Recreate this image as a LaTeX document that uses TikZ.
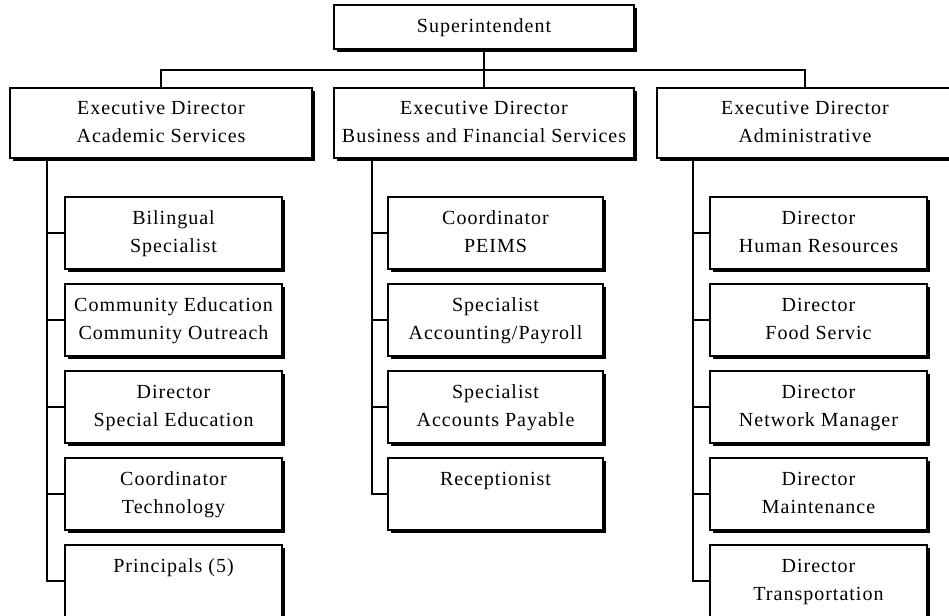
\documentclass[tikz,border=0pt]{standalone}
\usepackage{fontspec}
\setmainfont[LetterSpace=5]{Liberation Serif}
\usetikzlibrary{shadows}
\begin{document}
\begin{tikzpicture}[x=1pt,y=-1pt,
  orgbox/.style={draw, line width=1.2pt, fill=white, inner sep=0pt, outer sep=0pt,
    align=center, anchor=north west,
    font=\fontsize{20}{28}\selectfont,
    drop shadow={shadow xshift=3pt, shadow yshift=-3pt, fill=black, opacity=1}},
  execbox/.style={orgbox, minimum height=70pt},
  subbox/.style={orgbox, minimum height=72pt},
  link/.style={line width=1.3pt}]
\useasboundingbox (0,0) rectangle (949,615);

% top of the chart
\node[orgbox, minimum width=300pt, minimum height=44pt] (sup) at (334,5) {\strut Superintendent};

% executive directors
\node[execbox, minimum width=302pt] (eac) at (10,88)  {\strut Executive Director\\\strut Academic Services};
\node[execbox, minimum width=300pt] (ebu) at (334,88) {\strut Executive Director\\\strut Business and Financial Services};
\node[execbox, minimum width=296pt] (ead) at (657,88) {\strut Executive Director\\\strut Administrative};

% academic services staff
\node[subbox, minimum width=217pt] (a1) at (65,197) {\strut Bilingual\\\strut Specialist};
\node[subbox, minimum width=217pt] (a2) at (65,284) {\strut Community Education\\\strut Community Outreach};
\node[subbox, minimum width=217pt] (a3) at (65,371) {\strut Director\\\strut Special Education};
\node[subbox, minimum width=217pt] (a4) at (65,458) {\strut Coordinator\\\strut Technology};
\node[subbox, minimum width=217pt] (a5) at (65,545) {\strut Principals (5)\\\strut};

% business and financial services staff
\node[subbox, minimum width=215pt] (b1) at (388,197) {\strut Coordinator\\\strut PEIMS};
\node[subbox, minimum width=215pt] (b2) at (388,284) {\strut Specialist\\\strut Accounting/Payroll};
\node[subbox, minimum width=215pt] (b3) at (388,371) {\strut Specialist\\\strut Accounts Payable};
\node[subbox, minimum width=215pt] (b4) at (388,458) {\strut Receptionist\\\strut};

% administrative staff
\node[subbox, minimum width=217pt] (d1) at (710,197) {\strut Director\\\strut Human Resources};
\node[subbox, minimum width=217pt] (d2) at (710,284) {\strut Director\\\strut Food Servic};
\node[subbox, minimum width=217pt] (d3) at (710,371) {\strut Director\\\strut Network Manager};
\node[subbox, minimum width=217pt] (d4) at (710,458) {\strut Director\\\strut Maintenance};
\node[subbox, minimum width=217pt] (d5) at (710,545) {\strut Director\\\strut Transportation};

% connectors: superintendent to executive directors
\coordinate (bus) at (484,70);
\draw[link] (sup.south) -- (ebu.north);
\draw[link] (eac.north) |- (bus) -| (ead.north);

% spines down the left of each column
\coordinate (spa) at (47,0);
\coordinate (spb) at (372,0);
\coordinate (spd) at (693,0);
\draw[link] (eac.south -| spa) |- (a5.west);
\foreach \n in {a1,a2,a3,a4} \draw[link] (\n.west) -- (\n.west -| spa);
\draw[link] (ebu.south -| spb) |- (b4.west);
\foreach \n in {b1,b2,b3} \draw[link] (\n.west) -- (\n.west -| spb);
\draw[link] (ead.south -| spd) |- (d5.west);
\foreach \n in {d1,d2,d3,d4} \draw[link] (\n.west) -- (\n.west -| spd);
\end{tikzpicture}
\end{document}
